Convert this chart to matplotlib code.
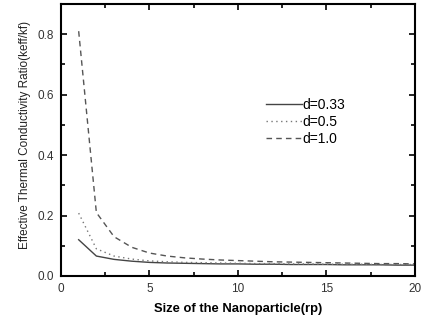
import numpy as np
import matplotlib
matplotlib.use("Agg")
import matplotlib.pyplot as plt
from matplotlib.ticker import MultipleLocator

# size of the nanoparticle
rp = [1, 2, 3, 4, 5, 6, 7, 8, 9, 10, 11, 12, 13, 14, 15, 16, 17, 18, 19, 20]

# effective thermal conductivity ratio for each d
k_033 = [0.120, 0.066, 0.055, 0.049, 0.045, 0.043, 0.042, 0.041, 0.040, 0.040,
         0.039, 0.039, 0.038, 0.038, 0.038, 0.037, 0.037, 0.037, 0.036, 0.036]
k_05 = [0.208, 0.090, 0.066, 0.056, 0.050, 0.047, 0.045, 0.044, 0.043, 0.042,
        0.041, 0.041, 0.040, 0.040, 0.039, 0.039, 0.039, 0.038, 0.038, 0.038]
k_10 = [0.810, 0.210, 0.130, 0.095, 0.076, 0.066, 0.060, 0.056, 0.053, 0.051,
        0.049, 0.047, 0.046, 0.045, 0.044, 0.043, 0.042, 0.041, 0.041, 0.040]

plt.rcParams['font.family'] = ['Liberation Sans', 'DejaVu Sans']

fig = plt.figure(figsize=(4.22, 3.2), dpi=100)
ax = fig.add_axes([0.1445, 0.1375, 0.8385, 0.85])

ax.plot(rp, k_033, color="#444444", lw=1.0, ls="-", label="d=0.33")
ax.plot(rp, k_05, color="#777777", lw=1.0, ls=(0, (1, 2.5)), label="d=0.5")
ax.plot(rp, k_10, color="#555555", lw=1.0, ls=(0, (4, 3)), label="d=1.0")

ax.set_xlim(0, 20)
ax.set_ylim(0, 0.9)
ax.xaxis.set_major_locator(MultipleLocator(5))
ax.xaxis.set_minor_locator(MultipleLocator(2.5))
ax.yaxis.set_major_locator(MultipleLocator(0.2))
ax.yaxis.set_minor_locator(MultipleLocator(0.1))
ax.tick_params(which="both", direction="in", top=True, right=True,
               labelsize=8.5, labelcolor="#333333", width=1.2)
ax.tick_params(which="major", length=4, pad=5)
ax.tick_params(which="minor", length=3)
for s in ax.spines.values():
    s.set_linewidth(1.5)

ax.set_xlabel("Size of the Nanoparticle(rp)", fontsize=9.4, fontweight="bold", labelpad=6)
ax.set_ylabel("Effective Thermal Conductivity Ratio(keff/kf)", fontsize=8.5, color="#222222", labelpad=6)
ax.yaxis.set_label_coords(-0.085, 0.52)

ax.legend(loc="upper left", bbox_to_anchor=(0.545, 0.7), frameon=False,
          fontsize=10, handlelength=2.6, handletextpad=0.0, labelspacing=0.2)

fig.savefig("out.png", dpi=100)
